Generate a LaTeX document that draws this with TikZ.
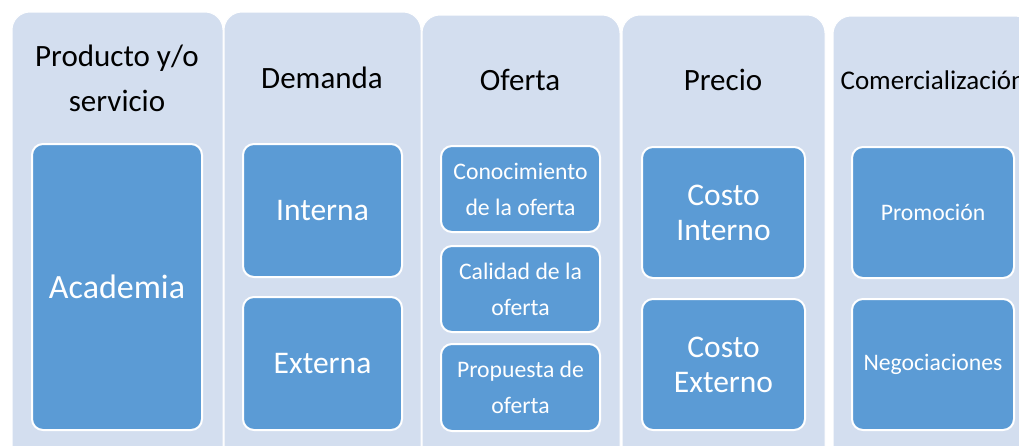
\documentclass[tikz,border=0pt]{standalone}
\usepackage{fontspec}
\setmainfont{Carlito}
\definecolor{fondo}{RGB}{211,222,239}
\definecolor{azul}{RGB}{91,155,213}
\begin{document}
\begin{tikzpicture}[x=1pt,y=-1pt, line join=round,
  columna/.style={fill=fondo, draw=white, line width=1pt, rounded corners=18pt},
  caja/.style={fill=azul, draw=white, line width=2pt, rounded corners=11pt, text=white, align=center, inner sep=0pt},
  titulo/.style={align=center, inner sep=0pt, font=\fontsize{31}{45}\selectfont}]
\useasboundingbox (0,0) rectangle (1019,445);
\clip (0,0) rectangle (1019,445);
\def\yb{480} % borde inferior (fuera del recorte)
% columnas
\draw[columna] (12,12) rectangle (223,\yb);
\draw[columna] (224,12) rectangle (421,\yb);
\draw[columna] (422,15) rectangle (620,\yb);
\draw[columna] (622,15) rectangle (825,\yb);
\draw[columna] (833,16) rectangle (1033,\yb);
% titulos
\node[titulo] (prod) at (117,78) {Producto y/o\\servicio};
\node[titulo] (dem) at (322,78) {Demanda};
\node[titulo] (ofe) at (520,80) {Oferta};
\node[titulo] (pre) at (723,80) {Precio};
\node[titulo, font=\fontsize{27}{33}\selectfont] (com) at (933,80) {Comercialización};
% cajas
\node[caja, minimum width=170, minimum height=286, font=\fontsize{34}{40}\selectfont] (acad) at (117,287) {Academia};
\node[caja, minimum width=159, minimum height=133, font=\fontsize{31.5}{36}\selectfont] (int) at (322.5,210.5) {Interna};
\node[caja, minimum width=159, minimum height=133, font=\fontsize{31.5}{36}\selectfont] (ext) at (322.5,363.5) {Externa};
\node[caja, minimum width=159, minimum height=86, font=\fontsize{23.7}{36}\selectfont] (cono) at (520.5,189) {Conocimiento\\de la oferta};
\node[caja, minimum width=159, minimum height=86, font=\fontsize{23.7}{36}\selectfont] (cali) at (520.5,289) {Calidad de la\\oferta};
\node[caja, minimum width=159, minimum height=87, font=\fontsize{23.7}{36}\selectfont] (prop) at (520.5,387.5) {Propuesta de\\oferta};
\node[caja, minimum width=163, minimum height=131, font=\fontsize{31.5}{35}\selectfont] (cint) at (723.5,212.5) {Costo\\Interno};
\node[caja, minimum width=163, minimum height=131, font=\fontsize{31.5}{35}\selectfont] (cext) at (723.5,364.5) {Costo\\Externo};
\node[caja, minimum width=162, minimum height=131, font=\fontsize{23.7}{30}\selectfont] (prom) at (933,212.5) {Promoción};
\node[caja, minimum width=162, minimum height=131, font=\fontsize{23.7}{30}\selectfont] (nego) at (933,364.5) {Negociaciones};
\end{tikzpicture}
\end{document}
